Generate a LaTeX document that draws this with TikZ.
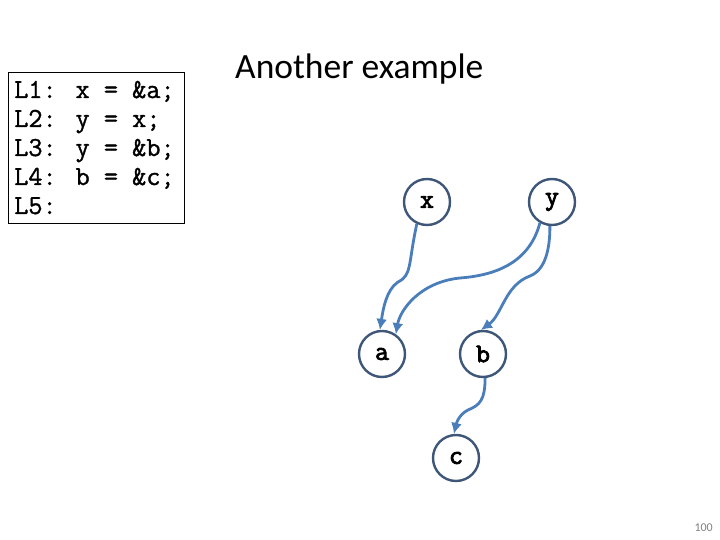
\documentclass[tikz,border=0pt]{standalone}
\usepackage{fontspec}
\setmainfont{Carlito}
\setmonofont{Latin Modern Mono}[AutoFakeBold=3]
\newfontfamily\codefont{Latin Modern Mono}[FakeBold=1.2]
\usetikzlibrary{arrows.meta}
\definecolor{ring}{HTML}{3E5779}
\definecolor{edge}{HTML}{4A7EBB}
\tikzset{
  var/.style={circle, draw=ring, line width=2.4pt, minimum size=46pt, inner sep=0pt,
    font=\fontsize{27}{27}\selectfont\ttfamily\bfseries, fill=white},
  ptr/.style={draw=edge, line width=2.8pt, -{Latex[length=11pt,width=11pt]}},
  codeline/.style={anchor=base west, inner sep=0pt, font=\fontsize{27.5}{27.5}\selectfont\codefont}
}
\begin{document}
\begin{tikzpicture}[x=1pt,y=-1pt]
\useasboundingbox (0,0) rectangle (720,540);
\draw[line width=0.8pt] (8,72) rectangle (184,223);
\node[codeline] (l1) at (14,98) {L1: x = \&a;};
\node[codeline] (l2) at (14,127) {L2: y = x;};
\node[codeline] (l3) at (14,156) {L3: y = \&b;};
\node[codeline] (l4) at (14,185) {L4: b = \&c;};
\node[codeline] (l5) at (14,214) {L5:};
\node[anchor=base west, inner sep=0pt, font=\fontsize{35.5}{35.5}\selectfont] (title) at (235,79) {Another example};
\node[var] (x) at (427,202) {x};
\node[var] (y) at (552,202) {y};
\node[var] (a) at (382,354) {a};
\node[var] (b) at (483,354) {b};
\node[var] (c) at (456,458) {c};
\draw[ptr] (x.-115) .. controls (408,265) and (412,275) .. (398,282) .. controls (386,290) and (383,310) .. (a.95);
\draw[ptr] (y.-120) .. controls (530,260) and (500,275) .. (460,278) .. controls (420,282) and (400,310) .. (a.55);
\draw[ptr] (y.-95) .. controls (550,250) and (545,270) .. (530,276) .. controls (505,285) and (502,315) .. (b.95);
\draw[ptr] (b.-85) .. controls (485,400) and (480,405) .. (468,410) .. controls (458,415) and (456,425) .. (c.95);
\node[anchor=base east, inner sep=0pt, text=gray, font=\fontsize{12}{12}\selectfont] (pg) at (713,531) {100};
\end{tikzpicture}
\end{document}
